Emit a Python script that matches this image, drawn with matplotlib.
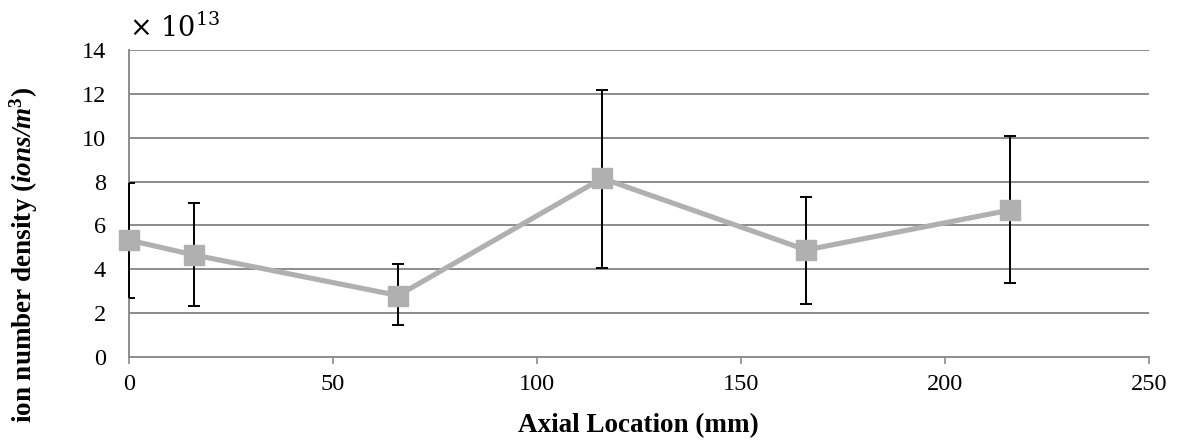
import matplotlib
matplotlib.use('Agg')
import matplotlib.pyplot as plt

plt.rcParams['font.family'] = ['Liberation Serif', 'DejaVu Serif']
plt.rcParams['mathtext.fontset'] = 'custom'
plt.rcParams['mathtext.rm'] = 'Liberation Serif'
plt.rcParams['mathtext.it'] = 'Liberation Serif:italic'
plt.rcParams['mathtext.bf'] = 'Liberation Serif:bold'
plt.rcParams['mathtext.bfit'] = 'Liberation Serif:italic:bold'

# axial location (mm) and ion density (x 1e13 ions/m^3)
location = [0, 16, 66, 116, 166, 216]
density = [5.33, 4.65, 2.8, 8.15, 4.88, 6.7]
err_low = [2.68, 2.34, 1.44, 4.04, 2.42, 3.36]
err_high = [7.95, 7.01, 4.24, 12.17, 7.31, 10.1]

lower = [d - lo for d, lo in zip(density, err_low)]
upper = [hi - d for d, hi in zip(density, err_high)]

fig = plt.figure(figsize=(11.82, 4.4), dpi=100)
ax = fig.add_axes([0.109, 0.189, 0.863, 0.697])

grid_col = '#8c8c8c'
for y in range(2, 15, 2):
    ax.axhline(y, color=grid_col, lw=1.4, zorder=0)

eb = ax.errorbar(location, density, yerr=[lower, upper], fmt='none', ecolor='black',
                 elinewidth=1.4, capsize=4.5, capthick=1.4, zorder=2)
# first bar sits on the y axis: don't clip the vertical stroke
for col in eb[2]:
    col.set_clip_on(False)
ax.plot(location, density, color='#b0b0b0', lw=3.7, marker='s', markersize=14,
        markerfacecolor='#b0b0b0', markeredgecolor='#b0b0b0', zorder=3,
        clip_on=False)

ax.set_xlim(0, 250)
ax.set_ylim(0, 14)
ax.set_xticks([0, 50, 100, 150, 200, 250])
ax.set_yticks(range(0, 15, 2))

for s in ['top', 'right']:
    ax.spines[s].set_visible(False)
for s in ['left', 'bottom']:
    ax.spines[s].set_color(grid_col)
    ax.spines[s].set_linewidth(1.4)
    ax.spines[s].set_zorder(1)

ax.tick_params(axis='x', direction='out', length=5, width=1.2, color=grid_col,
               labelsize=17.5, pad=7)
ax.tick_params(axis='y', length=0, labelsize=17.5, pad=16.5)

ax.set_xlabel('Axial Location (mm)', fontsize=19.5, fontweight='bold')
ax.xaxis.set_label_coords(0.5, -0.182)
ax.set_ylabel(r'ion number density ($\mathbfit{ions/m}^{\mathbf{3}}$)', fontsize=19.5,
              fontweight='bold')
ax.yaxis.set_label_coords(-0.087, 0.332)

fig.text(0.109, 0.916, r'$\times\ 10^{13}$', fontsize=19.5, va='baseline',
         family='DejaVu Serif', math_fontfamily='dejavuserif')

fig.savefig('out.png', dpi=100)
